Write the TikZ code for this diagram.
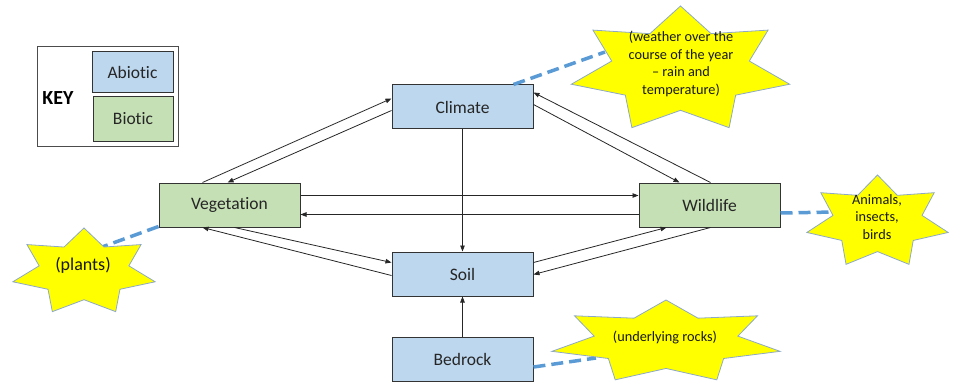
\documentclass[tikz,border=0pt]{standalone}
\usepackage{fontspec}
\setmainfont{Carlito}[Ligatures={NoCommon,NoRare,NoContextual}]
\usetikzlibrary{arrows.meta,calc}
\definecolor{abio}{HTML}{BDD7EE}
\definecolor{bio}{HTML}{C5E0B4}
\definecolor{staryel}{HTML}{FFFF00}
\definecolor{starline}{HTML}{8EA9C8}
\definecolor{dashblue}{HTML}{5B9BD5}
\definecolor{txt}{HTML}{262626}
\newcommand{\sevenstar}[4]{%
 \filldraw[starshape] ({#1},{#2-#4}) \foreach \k [evaluate=\k as \sfac using {ifthenelse(mod(\k,2)==0,1,0.63)}] in {1,...,13} { -- ({#1+\sfac*#3*cos(90+\k*360/14)},{#2-\sfac*#4*sin(90+\k*360/14)}) } -- cycle;}
\begin{document}
\begin{tikzpicture}[x=1pt,y=-1pt,
  boxbase/.style={draw=black!80,line width=1pt,minimum width=141pt,minimum height=44pt,inner sep=0pt,text=txt,font=\fontsize{17.5}{20}\selectfont},
  abiobox/.style={boxbase,fill=abio},
  biobox/.style={boxbase,fill=bio},
  starshape/.style={fill=staryel,draw=starline,line width=0.8pt},
  startext/.style={align=center,text=black!90,font=\fontsize{14.3}{17.5}\selectfont,inner sep=0pt},
  conn/.style={draw=black!85,line width=0.8pt,-{Triangle[length=6pt,width=4.5pt]}},
  note/.style={draw=dashblue,line width=3.5pt,dash pattern=on 12pt off 6pt}]
\useasboundingbox (0,0) rectangle (955,385);

% key
\node[draw=black!70,line width=0.9pt,minimum width=141pt,minimum height=100pt,inner sep=0pt] (keybox) at (107.5,96) {};
\node[font=\bfseries\fontsize{20}{24}\selectfont,text=black] (key) at (58,98) {KEY};
\node[abiobox,minimum width=81pt,minimum height=41pt] (kabio) at (132.5,72.5) {Abiotic};
\node[biobox,minimum width=80pt,minimum height=44pt] (kbio) at (133,119) {Biotic};

% boxes
\node[abiobox] (clim) at (462.5,107) {Climate};
\node[biobox] (veg) at (229.5,205) {Vegetation};
\node[biobox] (wild) at (709.5,205) {Wildlife};
\node[abiobox] (soil) at (462.5,274) {Soil};
\node[abiobox] (bed) at (462.5,359) {Bedrock};

% dashed notes
\coordinate (wnotch) at (605,52);
\coordinate (pnotch) at (102,247);
\coordinate (anotch) at (835,212);
\coordinate (rnotch) at (596,358);
\draw[note] ($(clim.north east)+(-20,0)$) -- (wnotch);
\draw[note] ($(veg.south west)+(0,-1)$) -- (pnotch);
\draw[note] ($(wild.east)+(0,8)$) -- (anotch);
\draw[note] ($(bed.east)+(0,8)$) -- (rnotch);

% stars
\sevenstar{680.5}{70}{112}{64}
\sevenstar{84}{272}{73}{44}
\sevenstar{877.5}{222}{72.5}{47}
\sevenstar{666}{342}{117}{42}
\node[startext] (wtxt) at (681,64) {(weather over the\\course of the year\\– rain and\\temperature)};
\node[startext] (atxt) at (877,217) {Animals,\\insects,\\birds};
\node[startext,font=\fontsize{18}{21}\selectfont] (ptxt) at (83,265) {(plants)};
\node[startext] (rtxt) at (665,337) {(underlying rocks)};

% connectors
\draw[conn] ($(veg.north west)+(44,0)$) -- ($(clim.north west)+(0,14)$);
\draw[conn] ($(clim.north west)+(0,26)$) -- ($(veg.north west)+(69,0)$);
\draw[conn] ($(clim.north east)+(0,20)$) -- ($(wild.north west)+(41,0)$);
\draw[conn] ($(wild.north west)+(72,0)$) -- ($(clim.north east)+(0,8)$);
\draw[conn] ($(veg.north east)+(0,13)$) -- ($(wild.north west)+(0,13)$);
\draw[conn] ($(wild.north west)+(0,32)$) -- ($(veg.north east)+(0,32)$);
\draw[conn] (clim.south) -- (soil.north);
\draw[conn] ($(veg.south west)+(76,0)$) -- ($(soil.north west)+(0,11)$);
\draw[conn] ($(soil.north west)+(0,24)$) -- ($(veg.south west)+(44,0)$);
\draw[conn] ($(soil.north east)+(0,11)$) -- ($(wild.south west)+(28,0)$);
\draw[conn] ($(wild.south west)+(72,0)$) -- ($(soil.north east)+(0,23)$);
\draw[conn] (bed.north) -- (soil.south);
\end{tikzpicture}
\end{document}
